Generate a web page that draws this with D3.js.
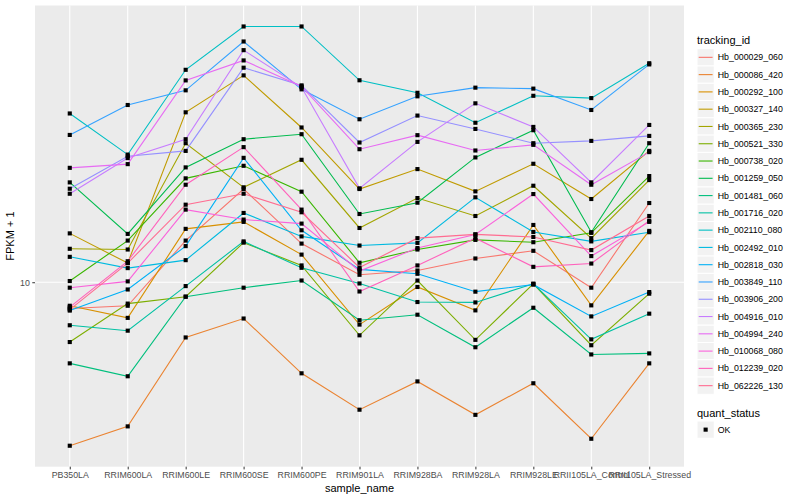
<!DOCTYPE html>
<html>
<head>
<meta charset="utf-8">
<script src="https://cdn.jsdelivr.net/npm/d3@7"></script>
<style>
  body { margin: 0; background: #fff; }
  text { font-family: "Liberation Sans", Arial, sans-serif; }
</style>
</head>
<body>
<script>
// samples on the x axis
var samples = ["PB350LA", "RRIM600LA", "RRIM600LE", "RRIM600SE", "RRIM600PE", "RRIM901LA",
               "RRIM928BA", "RRIM928LA", "RRIM928LE", "RRII105LA_Control", "RRII105LA_Stressed"];

var trackingIds = ["Hb_000029_060", "Hb_000086_420", "Hb_000292_100", "Hb_000327_140", "Hb_000365_230",
                   "Hb_000521_330", "Hb_000738_020", "Hb_001259_050", "Hb_001481_060", "Hb_001716_020",
                   "Hb_002110_080", "Hb_002492_010", "Hb_002818_030", "Hb_003849_110", "Hb_003906_200",
                   "Hb_004916_010", "Hb_004994_240", "Hb_010068_080", "Hb_012239_020", "Hb_062226_130"];

// FPKM + 1, one array per gene, in sample order
var hb000029 = [8.59, 8.73, 12.72, 17.13, 12.50, 10.44, 10.70, 11.47, 11.99, 9.69, 15.80];
var hb000086 = [3.89, 4.35, 7.27, 8.11, 5.91, 4.79, 5.64, 4.65, 5.58, 4.05, 6.26];
var hb000292 = [8.73, 8.14, 13.61, 14.17, 11.73, 7.83, 9.73, 8.50, 13.92, 8.75, 13.45];
var hb000327 = [13.26, 11.17, 26.68, 33.02, 24.44, 17.13, 19.22, 16.90, 19.82, 16.17, 21.35];
var hb000365 = [12.13, 12.08, 22.32, 17.30, 20.28, 13.68, 16.26, 14.66, 17.46, 12.90, 18.04];
var hb000521 = [7.08, 8.84, 9.20, 12.57, 11.02, 7.36, 10.10, 7.17, 9.91, 6.95, 9.36];
var hb000738 = [10.07, 12.72, 18.22, 19.59, 16.87, 11.19, 12.08, 12.77, 12.60, 13.30, 18.46];
var hb001259 = [17.80, 13.22, 19.41, 22.84, 23.51, 14.83, 15.83, 20.56, 24.06, 13.35, 22.32];
var hb001481 = [6.26, 5.81, 9.20, 9.69, 10.10, 8.03, 8.29, 6.87, 8.63, 6.59, 6.63];
var hb001716 = [7.80, 7.56, 9.78, 12.66, 10.87, 9.93, 8.92, 8.90, 9.91, 7.19, 8.34];
var hb002110 = [26.5, 20.9, 34.1, 43.8, 43.8, 32.1, 29.86, 25.12, 29.35, 28.96, 35.42];
var hb002492 = [11.58, 10.85, 11.36, 14.92, 13.03, 12.36, 12.55, 16.33, 13.37, 12.66, 13.35];
var hb002818 = [8.49, 9.59, 12.32, 20.51, 13.50, 10.77, 10.50, 9.47, 9.86, 8.21, 9.45];
var hb003849 = [23.41, 27.83, 30.29, 40.16, 30.46, 25.63, 29.26, 30.76, 30.59, 27.04, 35.18];
var hb003906 = [17.16, 20.71, 21.35, 34.52, 31.17, 22.41, 26.18, 24.24, 22.32, 22.62, 23.28];
var hb004916 = [16.67, 20.48, 22.84, 38.20, 30.82, 17.20, 22.49, 28.10, 24.52, 17.80, 24.80];
var hb004994 = [19.36, 19.78, 32.08, 36.00, 30.99, 21.56, 23.38, 21.40, 22.11, 17.56, 21.20];
var hb010068 = [9.69, 10.05, 15.21, 14.36, 14.03, 10.67, 12.18, 13.18, 16.64, 11.63, 14.17];
var hb012239 = [8.66, 11.29, 17.56, 21.82, 15.21, 9.48, 11.02, 12.90, 10.93, 11.14, 14.27];
var hb062226 = [8.54, 11.17, 15.65, 16.67, 14.98, 10.89, 12.90, 13.18, 12.99, 12.04, 14.66];

var seriesValues = [hb000029, hb000086, hb000292, hb000327, hb000365, hb000521, hb000738, hb001259,
                    hb001481, hb001716, hb002110, hb002492, hb002818, hb003849, hb003906, hb004916,
                    hb004994, hb010068, hb012239, hb062226];

var yTicks = [10];
var statusLevels = ["OK"];

// ggplot's default hue palette for 20 levels
var palette = ["#F8766D", "#EA8331", "#D89000", "#C09B00", "#A3A500", "#7CAE00", "#39B600", "#00BB4E",
               "#00BF7D", "#00C1A3", "#00BFC4", "#00BAE0", "#00B0F6", "#35A2FF", "#9590FF", "#C77CFF",
               "#E76BF3", "#FA62DB", "#FF62BC", "#FF6C91"];

var width = 800
  , height = 500
  , panelLeft = 35
  , panelRight = 684
  , panelTop = 5.5
  , panelBottom = 466.7
  ;

var series = trackingIds.map(function (id, i) {
    return { id: id, color: palette[i], values: seriesValues[i] };
});

var svg = d3.select("body").append("svg").attr("width", width).attr("height", height);

var x = d3.scalePoint().domain(samples).range([panelLeft, panelRight]).padding(0.6);

var all = d3.merge(seriesValues).map(Math.log10)
  , lo = d3.min(all)
  , hi = d3.max(all)
  , pad = (hi - lo) * 0.05
  ;
var y = d3.scaleLog().domain([Math.pow(10, lo - pad), Math.pow(10, hi + pad)]).range([panelBottom, panelTop]);

// panel
svg.append("rect")
    .attr("x", panelLeft).attr("y", panelTop)
    .attr("width", panelRight - panelLeft).attr("height", panelBottom - panelTop)
    .attr("fill", "#ebebeb");

var grid = svg.append("g").attr("stroke", "#fff").attr("stroke-width", 1.1);
grid.selectAll("line.v").data(samples).enter().append("line")
    .attr("x1", function (d) { return x(d); }).attr("x2", function (d) { return x(d); })
    .attr("y1", panelTop).attr("y2", panelBottom);
grid.selectAll("line.h").data(yTicks).enter().append("line")
    .attr("x1", panelLeft).attr("x2", panelRight)
    .attr("y1", function (d) { return y(d); }).attr("y2", function (d) { return y(d); });

// lines
var line = d3.line()
    .x(function (d, i) { return x(samples[i]); })
    .y(function (d) { return y(d); });

svg.append("g").selectAll("path").data(series).enter().append("path")
    .attr("d", function (s) { return line(s.values); })
    .attr("fill", "none")
    .attr("stroke", function (s) { return s.color; })
    .attr("stroke-width", 1.1);

// points
var square = d3.symbol().type(d3.symbolSquare).size(17);
series.forEach(function (s) {
    svg.append("g").selectAll("path").data(s.values).enter().append("path")
        .attr("d", square)
        .attr("transform", function (d, i) { return "translate(" + x(samples[i]) + "," + y(d) + ")"; })
        .attr("fill", "#000");
});

// axes
var xAxis = svg.append("g")
    .attr("transform", "translate(0," + panelBottom + ")")
    .call(d3.axisBottom(x).tickSize(2.7).tickPadding(2.5));
var yAxis = svg.append("g")
    .attr("transform", "translate(" + panelLeft + ",0)")
    .call(d3.axisLeft(y).tickValues(yTicks).tickFormat(d3.format("d")).tickSize(2.7).tickPadding(2.5));

[xAxis, yAxis].forEach(function (a) {
    a.select(".domain").remove();
    a.selectAll(".tick line").attr("stroke", "#333");
    a.selectAll(".tick text").attr("fill", "#4d4d4d").style("font-size", "8.8px")
        .style("font-family", "Liberation Sans, Arial, sans-serif");
});

svg.append("text")
    .attr("x", (panelLeft + panelRight) / 2).attr("y", 492)
    .attr("text-anchor", "middle")
    .style("font-size", "11px")
    .text("sample_name");

svg.append("text")
    .attr("transform", "translate(14," + (panelTop + panelBottom) / 2 + ") rotate(-90)")
    .attr("text-anchor", "middle")
    .style("font-size", "11px")
    .text("FPKM + 1");

// legends
var keySize = 17.28
  , legX = 697
  , legTop = 48.7
  ;

svg.append("text").attr("x", legX).attr("y", 43.5).style("font-size", "11px").text("tracking_id");

var keys = svg.append("g").selectAll("g").data(series).enter().append("g")
    .attr("transform", function (d, i) { return "translate(" + legX + "," + (legTop + i * keySize) + ")"; });
keys.append("rect")
    .attr("width", keySize).attr("height", keySize)
    .attr("fill", "#f2f2f2").attr("stroke", "#fff");
keys.append("line")
    .attr("x1", 1.7).attr("x2", keySize - 1.7)
    .attr("y1", keySize / 2).attr("y2", keySize / 2)
    .attr("stroke", function (d) { return d.color; })
    .attr("stroke-width", 1.1);
keys.append("text")
    .attr("x", keySize + 3.5).attr("y", keySize / 2 + 3.1)
    .style("font-size", "8.8px")
    .text(function (d) { return d.id; });

svg.append("text").attr("x", legX).attr("y", 416.5).style("font-size", "11px").text("quant_status");

var statusKeys = svg.append("g").selectAll("g").data(statusLevels).enter().append("g")
    .attr("transform", function (d, i) { return "translate(" + legX + "," + (421 + i * keySize) + ")"; });
statusKeys.append("rect")
    .attr("width", keySize).attr("height", keySize)
    .attr("fill", "#f2f2f2").attr("stroke", "#fff");
statusKeys.append("path")
    .attr("d", square)
    .attr("transform", "translate(" + keySize / 2 + "," + keySize / 2 + ")")
    .attr("fill", "#000");
statusKeys.append("text")
    .attr("x", keySize + 3.5).attr("y", keySize / 2 + 3.1)
    .style("font-size", "8.8px")
    .text(function (d) { return d; });
</script>
</body>
</html>
